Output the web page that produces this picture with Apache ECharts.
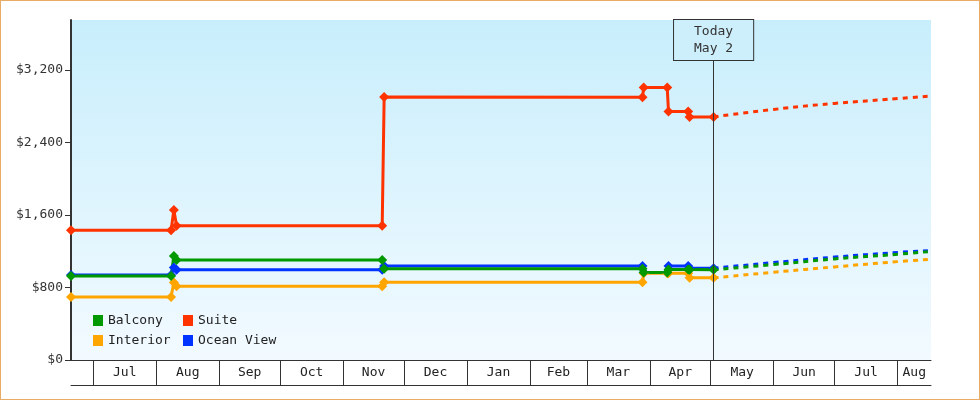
<!DOCTYPE html>
<html><head><meta charset="utf-8">
<script src="https://cdn.jsdelivr.net/npm/echarts@6/dist/echarts.min.js"></script>
<style>
html,body{margin:0;padding:0;background:#fff;}
#wrap{position:relative;width:980px;height:400px;}
#chart{width:980px;height:400px;}
#frame{position:absolute;left:0;top:0;width:980px;height:400px;box-sizing:border-box;border:1px solid #e9ab66;pointer-events:none;}
</style></head><body>
<div id="wrap"><div id="chart"></div><div id="frame"></div></div>
<script>
// ---- data ----
const axisStart = '2024-06-20 00:30';
const axisEnd = '2025-08-17 11:00';
const todayDate = '2025-05-02 10:00';
const monthStarts = ['2024-07-01','2024-08-01','2024-09-01','2024-10-01','2024-11-01','2024-12-01',
  '2025-01-01','2025-02-01','2025-03-01','2025-04-01','2025-05-01','2025-06-01','2025-07-01','2025-08-01'];
const monthNames = ['Jan','Feb','Mar','Apr','May','Jun','Jul','Aug','Sep','Oct','Nov','Dec'];
const yTicks = [0, 800, 1600, 2400, 3200];

const changeDates = ['2024-06-20 00:30','2024-08-08 07:00','2024-08-09 16:00','2024-08-11 00:00',
  '2024-11-20 06:00','2024-11-21 05:00','2025-03-28 10:00','2025-03-29 00:00','2025-04-09 14:00',
  '2025-04-10 05:00','2025-04-19 22:00','2025-04-20 14:00','2025-05-02 10:00'];
const balcony   = [926, 926, 1146, 1102, 1102, 1006, 1006, 964, 964, 997, 997, 995, 995];
const suite     = [1430, 1430, 1655, 1480, 1480, 2900, 2898, 3005, 3005, 2741, 2741, 2681, 2681];
const interior  = [694, 694, 856, 813, 813, 858, 858, 958, 958, 956, 956, 906, 906];
const oceanView = [937, 937, 1020, 995, 995, 1038, 1038, 966, 966, 1036, 1036, 1012, 1012];

const forecastDates = ['2025-05-02 10:00','2025-06-01','2025-07-01','2025-08-01','2025-08-17 11:00'];
const balconyForecast   = [995, 1053, 1115, 1166, 1198];
const suiteForecast     = [2681, 2764, 2830, 2883, 2912];
const interiorForecast  = [906, 968, 1027, 1085, 1110];
const oceanViewForecast = [1012, 1075, 1135, 1186, 1208];

const legendCol1 = ['Balcony','Interior'];
const legendCol2 = ['Suite','Ocean View'];

// ---- helpers ----
function ts(s){
  const m = s.match(/(\d+)-(\d+)-(\d+)(?:[ T](\d+):(\d+))?/);
  return new Date(+m[1], +m[2]-1, +m[3], +(m[4]||0), +(m[5]||0)).getTime();
}
function pairs(dates, vals){ return dates.map((d,i)=>[ts(d), vals[i]]); }

const FONT = '"DejaVu Sans Mono", monospace';
const colors = {Balcony:'#009900', Suite:'#ff3300', Interior:'#ffa500', 'Ocean View':'#0033ff'};

const tickVals = monthStarts.map(ts);
const labelVals = tickVals.map((t,i)=> (t + (i+1<tickVals.length ? tickVals[i+1] : ts(axisEnd)))/2);
const td = new Date(ts(todayDate));
const todayLabel = 'Today\n' + monthNames[td.getMonth()] + ' ' + td.getDate();

function mainSeries(name, vals, extra){
  return Object.assign({
    name, type:'line', data: pairs(changeDates, vals),
    symbol:'diamond', symbolSize:10, showAllSymbol:true,
    lineStyle:{color:colors[name], width:3},
    itemStyle:{color:colors[name]},
    emphasis:{disabled:true}, silent:true
  }, extra||{});
}
function forecastSeries(name, vals){
  return {
    name: name + ' forecast', type:'line', data: pairs(forecastDates, vals),
    symbol:'none', smooth:true,
    lineStyle:{color:colors[name], width:3, type:[5,5]},
    itemStyle:{color:colors[name]},
    emphasis:{disabled:true}, silent:true
  };
}
function legendCol(names, left){
  return {
    data:names, orient:'vertical', left:left, top:314, padding:0,
    itemWidth:10, itemHeight:11, itemGap:7, icon:'rect', selectedMode:false,
    textStyle:{fontFamily:FONT, fontSize:13, color:'#222'}
  };
}

const chart = echarts.init(document.getElementById('chart'), null, {renderer:'canvas'});
chart.setOption({
  animation:false,
  backgroundColor:'#ffffff',
  grid:{left:71, right:49, top:20, bottom:40, show:true, borderWidth:0,
    backgroundColor: new echarts.graphic.LinearGradient(0,0,0,1,[
      {offset:0, color:'#c8eefc'}, {offset:1, color:'#f2faff'}])},
  legend:[legendCol(legendCol1, 93), legendCol(legendCol2, 183)],
  xAxis:[{
    type:'value', min:ts(axisStart), max:ts(axisEnd),
    axisLine:{show:true, lineStyle:{color:'#333', width:1}},
    axisTick:{show:true, customValues:tickVals, length:25, lineStyle:{color:'#333', width:1}},
    axisLabel:{show:true, customValues:labelVals, margin:6, fontFamily:FONT, fontSize:13, color:'#222',
      formatter:(v)=>monthNames[new Date(v).getMonth()]},
    splitLine:{show:false}
  },{
    type:'value', position:'bottom', offset:25, min:ts(axisStart), max:ts(axisEnd),
    axisLine:{show:true, lineStyle:{color:'#333', width:1}},
    axisTick:{show:false}, axisLabel:{show:false}, splitLine:{show:false}
  }],
  yAxis:{
    type:'value', min:0, max:3750, interval:800,
    axisLine:{show:true, lineStyle:{color:'#333', width:2}},
    axisTick:{show:true, customValues:yTicks, length:6, lineStyle:{color:'#333', width:1}},
    axisLabel:{customValues:yTicks, margin:8, fontFamily:FONT, fontSize:13, color:'#333',
      formatter:(v)=>'$' + v.toLocaleString('en-US')},
    splitLine:{show:false}
  },
  series:[
    forecastSeries('Ocean View', oceanViewForecast),
    forecastSeries('Interior', interiorForecast),
    forecastSeries('Balcony', balconyForecast),
    forecastSeries('Suite', suiteForecast),
    mainSeries('Ocean View', oceanView),
    mainSeries('Interior', interior),
    mainSeries('Suite', suite),
    mainSeries('Balcony', balcony, {
      markLine:{
        silent:true, symbol:['none','none'], animation:false,
        lineStyle:{color:'#333', width:1, type:'solid'},
        data:[{xAxis: ts(todayDate)}],
        label:{show:true, position:'end', distance:-40, formatter:todayLabel,
          fontFamily:FONT, fontSize:13, color:'#333', lineHeight:17,
          padding:[3,20,3,20], borderColor:'#333', borderWidth:1, backgroundColor:'#cdeffc'}
      }
    })
  ]
});
</script>
</body></html>
